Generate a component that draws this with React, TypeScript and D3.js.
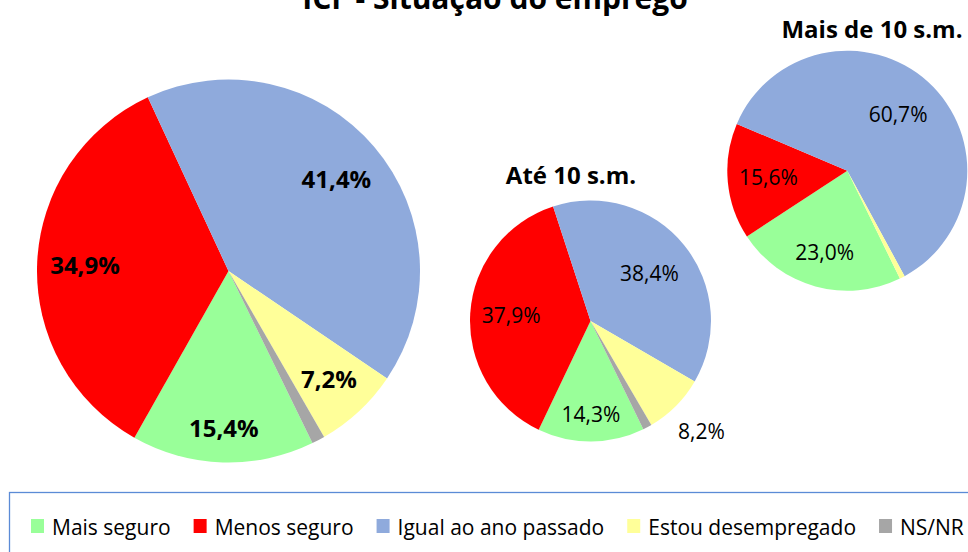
import React, { useEffect, useRef } from "react";
import * as d3 from "d3";

const categories = ["Mais seguro", "Menos seguro", "Igual ao ano passado", "Estou desempregado", "NS/NR"];
const totalValues = [15.4, 34.9, 41.4, 7.2, 1.1];
const ate10Values = [14.3, 37.9, 38.4, 8.2, 1.2];
const mais10Values = [23.0, 15.6, 60.7, 0.7, 0.0];
const titleText = "ICF - Situação do emprego";
const ate10Title = "Até 10 s.m.";
const mais10Title = "Mais de 10 s.m.";

const COLORS = ["#99FF99", "#FF0000", "#8FAADC", "#FFFF99", "#A6A6A6"];
const FONT = "'Open Sans', 'Noto Sans', sans-serif";
const W = 968;
const H = 552;
const START = (154 * Math.PI) / 180;

type PieCfg = {
  values: number[];
  cx: number;
  cy: number;
  r: number;
  labelR: (number | null)[];
  bold: boolean;
  fontSize: number;
};

const pies: PieCfg[] = [
  { values: totalValues, cx: 228.5, cy: 271, r: 191.5, labelR: [0.82, 0.75, 0.74, 0.77, null], bold: true, fontSize: 24 },
  { values: ate10Values, cx: 590.5, cy: 321, r: 120.5, labelR: [0.775, 0.66, 0.63, 1.3, null], bold: false, fontSize: 21 },
  { values: mais10Values, cx: 847.3, cy: 170.7, r: 120, labelR: [0.71, 0.66, 0.63, null, null], bold: false, fontSize: 21 },
];

const fmt = (v: number) => v.toFixed(1).replace(".", ",") + "%";

export default function App() {
  const ref = useRef<SVGSVGElement | null>(null);

  useEffect(() => {
    const svg = d3.select(ref.current);
    svg.selectAll("*").remove();

    const pieGen = d3
      .pie<number>()
      .sort(null)
      .value((d) => d)
      .startAngle(START)
      .endAngle(START + 2 * Math.PI);

    pies.forEach((p) => {
      const arcs = pieGen(p.values);
      const arc = d3.arc<d3.PieArcDatum<number>>().innerRadius(0).outerRadius(p.r);
      const g = svg.append("g").attr("transform", `translate(${p.cx},${p.cy})`);
      g.selectAll("path.slice")
        .data(arcs.filter((a) => a.value > 0))
        .join("path")
        .attr("class", "slice")
        .attr("d", arc)
        .attr("fill", (d) => COLORS[d.index]);
      arcs.forEach((a, i) => {
        const f = p.labelR[i];
        if (f == null) return;
        const mid = (a.startAngle + a.endAngle) / 2;
        const R = p.r * f;
        g.append("text")
          .attr("x", Math.sin(mid) * R)
          .attr("y", -Math.cos(mid) * R)
          .attr("dy", "0.36em")
          .attr("text-anchor", "middle")
          .attr("font-family", FONT)
          .attr("font-size", p.fontSize)
          .attr("font-weight", p.bold ? 700 : 400)
          .attr("fill", "#000")
          .text(fmt(a.value));
      });
    });

    svg.append("text")
      .attr("x", 495)
      .attr("y", 9)
      .attr("text-anchor", "middle")
      .attr("font-family", FONT)
      .attr("font-weight", 700)
      .attr("font-size", 30)
      .text(titleText);

    svg.append("text")
      .attr("x", 872)
      .attr("y", 38)
      .attr("text-anchor", "middle")
      .attr("font-family", FONT)
      .attr("font-weight", 700)
      .attr("font-size", 24)
      .text(mais10Title);

    svg.append("text")
      .attr("x", 571)
      .attr("y", 184)
      .attr("text-anchor", "middle")
      .attr("font-family", FONT)
      .attr("font-weight", 700)
      .attr("font-size", 24)
      .text(ate10Title);

    // legend
    svg.append("rect")
      .attr("x", 9.5)
      .attr("y", 492.5)
      .attr("width", 1000)
      .attr("height", 100)
      .attr("fill", "none")
      .attr("stroke", "#5B8BD6")
      .attr("stroke-width", 1.3);

    let x = 31;
    categories.forEach((c, i) => {
      svg.append("rect")
        .attr("x", x)
        .attr("y", 519)
        .attr("width", 13)
        .attr("height", 14)
        .attr("fill", COLORS[i]);
      const t = svg.append("text")
        .attr("x", x + 21)
        .attr("y", 535)
        .attr("font-family", FONT)
        .attr("font-size", 21)
        .attr("fill", "#000")
        .text(c);
      const w = (t.node() as SVGTextElement).getComputedTextLength();
      x = x + 21 + w + 23;
    });
  }, []);

  return (
    <div style={{ position: "fixed", left: 0, top: 0, width: W, height: H, background: "#fff" }}>
      <svg ref={ref} width={W} height={H} style={{ display: "block" }} />
    </div>
  );
}
